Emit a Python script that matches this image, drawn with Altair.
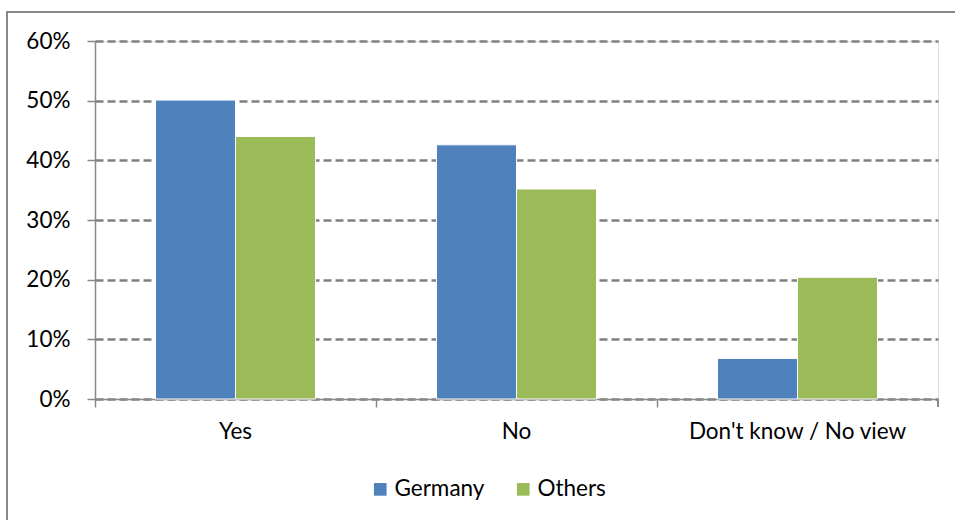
import altair as alt
import pandas as pd

categories = ["Yes", "No", "Don't know / No view"]
series = ["Germany", "Others"]
germany = [0.501, 0.426, 0.068]
others = [0.440, 0.352, 0.204]
colors = ["#4F81BD", "#9BBB59"]
y_ticks = [0, 0.1, 0.2, 0.3, 0.4, 0.5, 0.6]

rows = []
for c, g, o in zip(categories, germany, others):
    rows.append({"Category": c, "Series": "Germany", "Value": g})
    rows.append({"Category": c, "Series": "Others", "Value": o})
df = pd.DataFrame(rows)

FONT = "Lato"
FS = 22.5
W, H = 843, 358

bars = alt.Chart(df).mark_bar(stroke="white", strokeWidth=1).encode(
    x=alt.X("Category:N", sort=categories,
            scale=alt.Scale(paddingInner=0, paddingOuter=0),
            axis=alt.Axis(title=None, labelAngle=0, bandPosition=0,
                          ticks=True, tickSize=8, tickColor="#888888", tickWidth=1.5,
                          domainColor="#888888", domainWidth=1.5,
                          labelFontSize=FS, labelFont=FONT, labelColor="#000000",
                          labelPadding=13, labelAlign="center", labelLimit=0)),
    xOffset=alt.XOffset("Series:N", sort=series,
                        scale=alt.Scale(paddingInner=0, paddingOuter=0.756)),
    y=alt.Y("Value:Q", scale=alt.Scale(domain=[0, 0.6], nice=False),
            axis=alt.Axis(title=None, values=y_ticks, format=".0%",
                          grid=True, gridDash=[8, 4], gridColor="#808080", gridWidth=2.5,
                          domainColor="#888888", domainWidth=1.5,
                          tickSize=8, tickColor="#888888", tickWidth=1.5,
                          labelFontSize=FS, labelFont=FONT, labelColor="#000000",
                          labelPadding=17)),
    color=alt.Color("Series:N", sort=series,
                    scale=alt.Scale(domain=series, range=colors),
                    legend=alt.Legend(title=None, orient="none", direction="horizontal",
                                      legendX=274, legendY=437,
                                      symbolType="square", symbolSize=160,
                                      symbolStrokeWidth=0,
                                      labelFontSize=FS, labelFont=FONT, labelColor="#000000",
                                      labelOffset=3, columnPadding=27)),
)

end_tick = alt.Chart(df).mark_rule(color="#888888", strokeWidth=1.5).encode(
    x=alt.value(W), y=alt.value(H), y2=alt.value(H + 8)
)

frame = alt.Chart(df).mark_rect(fill=None, stroke="#888888", strokeWidth=2, clip=False).encode(
    x=alt.value(-88), x2=alt.value(W + 60), y=alt.value(-29), y2=alt.value(H + 200)
)

chart = alt.layer(frame, bars, end_tick).properties(
    width=W, height=H,
    autosize=alt.AutoSizeParams(type="none"),
    padding={"left": 95, "top": 41, "right": 17, "bottom": 121},
).configure_view(stroke=None).configure(background="white")

chart.save("out.html", embed_options={"renderer": "svg", "actions": False})
